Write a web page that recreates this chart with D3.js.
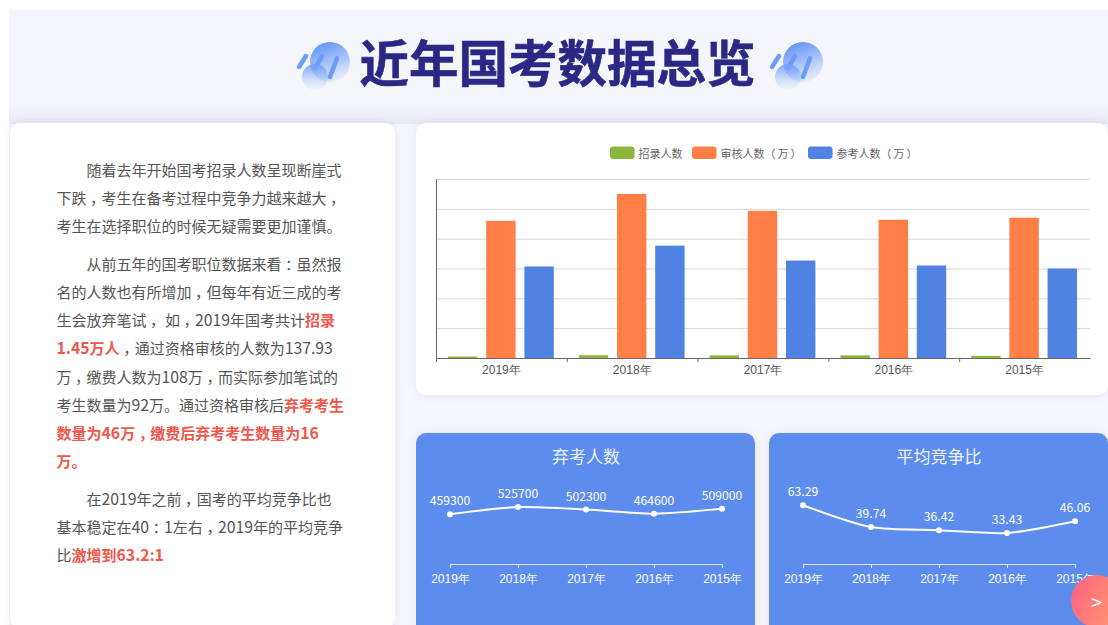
<!DOCTYPE html>
<html>
<head>
<meta charset="utf-8">
<script src="https://cdn.jsdelivr.net/npm/d3@7"></script>
<style>
  html, body { margin: 0; padding: 0; background: #fff; overflow: hidden; }
  svg { display: block; font-family: "Noto Sans CJK SC", "Noto Sans", sans-serif; }
</style>
</head>
<body>
<div id="page"></div>
<script>
// chart data
const years = ["2019年", "2018年", "2017年", "2016年", "2015年"];
const seriesNames = ["招录人数", "审核人数（万）", "参考人数（万）"];
const seriesColors = ["#8db63c", "#ff7f47", "#4f82e3"];
const recruit = [1.45, 2.8, 2.7, 2.7, 2.2];
const reviewed = [137.93, 165, 148, 139, 141];
const attended = [92, 113, 98, 93, 90];
const gridTicks = [30, 60, 90, 120, 150, 180];
const absentTitle = "弃考人数";
const absent = [459300, 525700, 502300, 464600, 509000];
const ratioTitle = "平均竞争比";
const ratio = [63.29, 39.74, 36.42, 33.43, 46.06];

// left column text, *...* is the red bold part
const paragraphs = [
  ["随着去年开始国考招录人数呈现断崖式", "下跌，考生在备考过程中竞争力越来越大，", "考生在选择职位的时候无疑需要更加谨慎。"],
  ["从前五年的国考职位数据来看：虽然报", "名的人数也有所增加，但每年有近三成的考", "生会放弃笔试， 如，2019年国考共计*招录*", "*1.45万人*，通过资格审核的人数为137.93", "万，缴费人数为108万，而实际参加笔试的", "考生数量为92万。通过资格审核后*弃考考生*", "*数量为46万，缴费后弃考考生数量为16*", "*万。*"],
  ["在2019年之前，国考的平均竞争比也", "基本稳定在40：1左右，2019年的平均竞争", "比*激增到63.2:1*"]
];

const width = 1108;
const height = 625;

const svg = d3.select("#page").append("svg")
  .attr("width", width)
  .attr("height", height)
  .attr("viewBox", [0, 0, width, height]);

const defs = svg.append("defs");

function linearGrad(id, x1, y1, x2, y2, stops) {
  const g = defs.append("linearGradient").attr("id", id)
    .attr("x1", x1).attr("y1", y1).attr("x2", x2).attr("y2", y2);
  stops.forEach(s => g.append("stop").attr("offset", s[0]).attr("stop-color", s[1]).attr("stop-opacity", s[2]));
}
linearGrad("bigBall", 0.3, 0, 0.7, 1, [[0, "#5f93f5", 1], [1, "#5f93f5", 0.05]]);
linearGrad("smallBall", 0.5, 0, 0.5, 1, [[0, "#6d9cf6", 0.9], [1, "#a5c3fa", 0.05]]);
linearGrad("arrowBall", 0, 0.3, 1, 0.8, [[0, "#ff6581", 1], [1, "#ff9a6c", 1]]);
linearGrad("headerFade", 0, 0, 0, 1, [[0, "#f5f6fb", 1], [1, "#e8e8f3", 1]]);

const shadow = defs.append("filter").attr("id", "cardShadow")
  .attr("x", "-10%").attr("y", "-10%").attr("width", "120%").attr("height", "120%");
shadow.append("feDropShadow").attr("dx", 0).attr("dy", 0).attr("stdDeviation", 4)
  .attr("flood-color", "#8585c0").attr("flood-opacity", 0.16);

// page background
svg.append("rect").attr("x", 9).attr("y", 10).attr("width", width - 9).attr("height", height - 10).attr("fill", "#f5f6fb");
svg.append("rect").attr("x", 9).attr("y", 104).attr("width", width - 9).attr("height", 20).attr("fill", "url(#headerFade)");

// title
svg.append("text")
  .attr("x", 557.5).attr("y", 60)
  .attr("text-anchor", "middle").attr("dominant-baseline", "central")
  .attr("font-size", 49.5).attr("font-weight", 700).attr("fill", "#2b2885")
  .attr("stroke", "#2b2885").attr("stroke-width", 0.6)
  .text("近年国考数据总览");

function drawIcon(dx) {
  const g = svg.append("g").attr("transform", `translate(${dx},0)`);
  g.append("circle").attr("cx", 330).attr("cy", 62).attr("r", 20).attr("fill", "url(#bigBall)");
  [[299, 67, 306, 56], [315, 68, 322, 56], [330, 77, 337, 58]].forEach(l => {
    g.append("line").attr("x1", l[0]).attr("y1", l[1]).attr("x2", l[2]).attr("y2", l[3])
      .attr("stroke", "#6d9cf6").attr("stroke-width", 4.5).attr("stroke-linecap", "round");
  });
  g.append("circle").attr("cx", 315).attr("cy", 77).attr("r", 13).attr("fill", "url(#smallBall)");
}
drawIcon(0);
drawIcon(473);

// cards
function card(x, y, w, h, fill) {
  svg.append("rect").attr("x", x).attr("y", y).attr("width", w).attr("height", h)
    .attr("rx", 10).attr("fill", fill).attr("filter", "url(#cardShadow)");
}
card(10, 123, 385, 505, "#fff");
card(416, 123, 692, 272, "#fff");
card(416, 433, 339, 205, "#5b8dee");
card(769, 433, 339, 205, "#5b8dee");

/*
  left text
*/
const lineH = 28.15;
const paraGap = 9.5;
let textY = 169;
paragraphs.forEach(lines => {
  lines.forEach((line, i) => {
    const t = svg.append("text")
      .attr("x", i === 0 ? 86.5 : 56.5).attr("y", textY)
      .attr("dominant-baseline", "central")
      .attr("font-size", 15).attr("fill", "#555");
    line.split("*").forEach((part, k) => {
      if (part === "") return;
      part.match(/[，：]|\d[\d.]*|[^，：\d]+/g).forEach(token => {
        const span = t.append("tspan").text(token);
        if (k % 2 === 1) span.attr("fill", "#f0574d").attr("font-weight", 700);
        if (/^\d/.test(token)) span.attr("font-size", 15.8);
        // comma and colon sit in the middle of their box
        if (token === "，" || token === "：") span.attr("dx", 3.5).attr("letter-spacing", -3.5);
      });
    });
    textY += lineH;
  });
  textY += paraGap;
});

/*
  bar chart
*/
const barMargin = {left: 436, right: 1090, top: 179, bottom: 358};
const seriesData = [recruit, reviewed, attended];

const xBar = d3.scaleBand().domain(years).range([barMargin.left, barMargin.right]);
const xSeries = d3.scaleBand().domain(d3.range(seriesNames.length))
  .range([12, xBar.bandwidth() - 13]).paddingInner(0.23);
const yBar = d3.scaleLinear().domain([0, 180]).range([barMargin.bottom, barMargin.top]);

svg.append("g").selectAll("line")
  .data(gridTicks)
  .enter().append("line")
    .attr("x1", barMargin.left).attr("x2", barMargin.right)
    .attr("y1", d => yBar(d) + 0.5).attr("y2", d => yBar(d) + 0.5)
    .attr("stroke", "#d6d6d6");

seriesData.forEach((values, s) => {
  svg.append("g").selectAll("rect")
    .data(values)
    .enter().append("rect")
      .attr("x", (d, i) => xBar(years[i]) + xSeries(s))
      .attr("y", d => yBar(d))
      .attr("width", xSeries.bandwidth())
      .attr("height", d => yBar(0) - yBar(d))
      .attr("fill", seriesColors[s]);
});

// x axis: labels from the band scale, ticks on the band edges
const barAxis = svg.append("g")
  .attr("transform", `translate(0,${barMargin.bottom})`)
  .call(d3.axisBottom(xBar).tickSize(0).tickPadding(7));
barAxis.select(".domain").remove();
barAxis.selectAll("text").attr("font-size", 12).attr("fill", "#555").attr("font-family", "inherit");

svg.append("g")
  .attr("transform", `translate(0,${barMargin.bottom})`)
  .call(d3.axisBottom(d3.scaleLinear().domain([0, years.length]).range([barMargin.left, barMargin.right]))
    .tickValues(d3.range(years.length)).tickSize(4).tickSizeOuter(0).tickFormat(""))
  .call(g => g.selectAll("line, path").attr("stroke", "#666"));

svg.append("g")
  .attr("transform", `translate(${barMargin.left},0)`)
  .call(d3.axisLeft(yBar).tickValues([]).tickSize(0))
  .call(g => g.select(".domain").attr("stroke", "#666"));

// legend
const legendX = [610, 692, 808];
seriesNames.forEach((name, i) => {
  svg.append("rect").attr("x", legendX[i]).attr("y", 146.5).attr("width", 24.5).attr("height", 12.5)
    .attr("rx", 3).attr("fill", seriesColors[i]);
  const t = svg.append("text").attr("x", legendX[i] + 28.5).attr("y", 152.5)
    .attr("dominant-baseline", "central").attr("font-size", 11).attr("fill", "#666");
  // the brackets are spaced out in the reference
  name.split(/(?=（)/).forEach((part, k) => {
    const span = t.append("tspan").text(part);
    if (k === 1) span.attr("letter-spacing", 2);
  });
});

/*
  two line charts
*/
function lineChart(title, values, maxY, left, right, titleX) {
  const x = d3.scalePoint().domain(years).range([left, right]);
  const y = d3.scaleLinear().domain([0, maxY]).range([564, 499]);

  svg.append("text").attr("x", titleX).attr("y", 455)
    .attr("text-anchor", "middle").attr("dominant-baseline", "central")
    .attr("font-size", 17).attr("fill", "#fff").attr("fill-opacity", 0.92)
    .text(title);

  const axis = svg.append("g")
    .attr("transform", "translate(0,564)")
    .call(d3.axisBottom(x).tickSize(4).tickPadding(6));
  axis.selectAll("line, path").attr("stroke", "#dbe6fb");
  axis.selectAll("text").attr("font-size", 12).attr("font-weight", 500)
    .attr("fill", "#fff").attr("font-family", "inherit");

  const line = d3.line()
    .x((d, i) => x(years[i]))
    .y(d => y(d))
    .curve(d3.curveCardinal.tension(0.2));

  svg.append("path").datum(values)
    .attr("d", line).attr("fill", "none")
    .attr("stroke", "#fff").attr("stroke-width", 2);

  svg.append("g").selectAll("circle")
    .data(values).enter().append("circle")
      .attr("cx", (d, i) => x(years[i]))
      .attr("cy", d => y(d))
      .attr("r", 3).attr("fill", "#fff");

  svg.append("g").selectAll("text")
    .data(values).enter().append("text")
      .attr("x", (d, i) => x(years[i]))
      .attr("y", d => y(d) - 14)
      .attr("text-anchor", "middle").attr("dominant-baseline", "central")
      .attr("font-size", 12.2).attr("fill", "#fff")
      .text(d => d);
}
lineChart(absentTitle, absent, 600000, 450, 722, 586);
lineChart(ratioTitle, ratio, 70, 803, 1075, 939);

// round button in the corner
svg.append("circle").attr("cx", 1097).attr("cy", 601).attr("r", 26).attr("fill", "url(#arrowBall)");
svg.append("text").attr("x", 1096.5).attr("y", 601)
  .attr("text-anchor", "middle").attr("dominant-baseline", "central")
  .attr("font-size", 20).attr("fill", "#fff").text(">");
</script>
</body>
</html>
